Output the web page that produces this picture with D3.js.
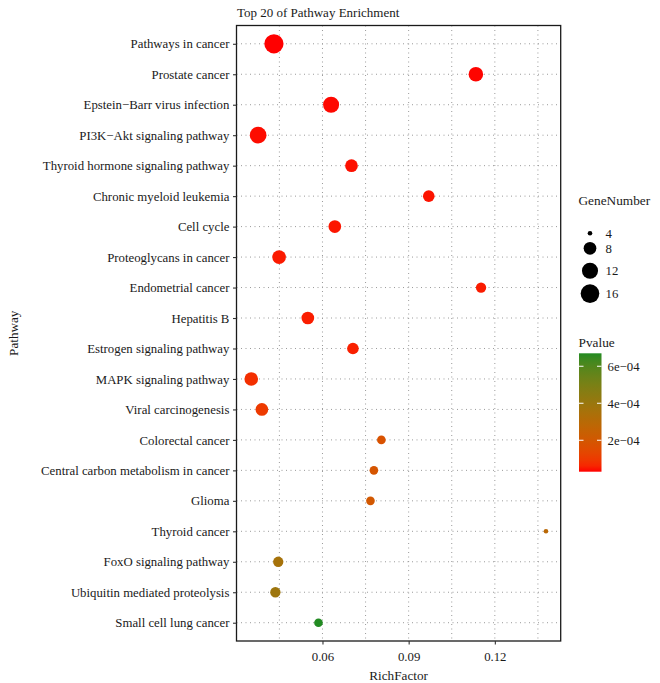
<!DOCTYPE html>
<html>
<head>
<meta charset="utf-8">
<script src="https://cdn.jsdelivr.net/npm/d3@7"></script>
<style>
  html, body { margin: 0; padding: 0; background: #fff; }
  svg { display: block; }
  text { font-family: "Liberation Serif", "Times New Roman", serif; fill: #1a1a1a; }
</style>
</head>
<body>
<svg id="chart" width="660" height="683"></svg>
<script>
// ---------------- data ----------------
const categories = [
  "Pathways in cancer",
  "Prostate cancer",
  "Epstein\u2212Barr virus infection",
  "PI3K\u2212Akt signaling pathway",
  "Thyroid hormone signaling pathway",
  "Chronic myeloid leukemia",
  "Cell cycle",
  "Proteoglycans in cancer",
  "Endometrial cancer",
  "Hepatitis B",
  "Estrogen signaling pathway",
  "MAPK signaling pathway",
  "Viral carcinogenesis",
  "Colorectal cancer",
  "Central carbon metabolism in cancer",
  "Glioma",
  "Thyroid cancer",
  "FoxO signaling pathway",
  "Ubiquitin mediated proteolysis",
  "Small cell lung cancer"
];
const richFactor = [
  0.0431, 0.1134, 0.0630, 0.0376, 0.0701, 0.0970, 0.0643, 0.0449, 0.1152, 0.0549,
  0.0706, 0.0352, 0.0389, 0.0805, 0.0779, 0.0767, 0.1378, 0.0446, 0.0436, 0.0586
];
const geneNumber = [
  17, 10, 12, 13, 8, 7, 8, 9, 6, 8,
  7, 9, 8, 5, 5, 5, 4, 6, 6, 5
];
const pValue = [
  3.0e-5, 3.2e-5, 3.4e-5, 3.6e-5, 3.8e-5, 4.0e-5, 4.3e-5, 4.6e-5, 4.8e-5, 5.0e-5,
  5.3e-5, 7.5e-5, 1.0e-4, 1.75e-4, 1.9e-4, 2.0e-4, 2.9e-4, 3.6e-4, 3.9e-4, 6.7e-4
];
const xTicks = [0.06, 0.09, 0.12];
const xMinorTicks = [0.045, 0.075, 0.105, 0.135];
const sizeBreaks = [4, 8, 12, 16];
const pBreaks = [2e-4, 4e-4, 6e-4];
const pBreakLabels = ["2e\u221204", "4e\u221204", "6e\u221204"];
const titleText = "Top 20 of Pathway Enrichment";

// ---------------- layout ----------------
const panel = { left: 236.5, right: 560.7, top: 25.5, bottom: 641 };
const FS = 12.8;
const svg = d3.select("#chart");

const data = categories.map((c, i) => ({
  name: c, rf: richFactor[i], gene: geneNumber[i], p: pValue[i]
}));

// x scale with ggplot-style 5% expansion
const [rfMin, rfMax] = d3.extent(richFactor);
const pad = (rfMax - rfMin) * 0.05;
const x = d3.scaleLinear().domain([rfMin - pad, rfMax + pad]).range([panel.left, panel.right]);

const y = d3.scalePoint().domain(categories).range([panel.top, panel.bottom]).padding(0.6);

// size scale (area palette, ggplot style)
const [gMin, gMax] = d3.extent(geneNumber);
const rMin = 2.3, rMax = 9.6;
const sizeNorm = d3.scaleSqrt().domain([0, gMax - gMin]).range([rMin, rMax]).clamp(true);
const radius = v => sizeNorm(v - gMin);

// color scale
const [pMin, pMax] = d3.extent(pValue);
const color = d3.scaleLinear().domain([pMin, pMax]).range(["#ff0000", "#228b22"]).interpolate(d3.interpolateLab);

// ---------------- grid ----------------
const grid = svg.append("g");
const gridStyle = sel => sel.attr("stroke", "#9a9a9a").attr("stroke-width", 1)
  .attr("stroke-dasharray", "1,3.5");
grid.selectAll("line.vx").data(xTicks.concat(xMinorTicks)).join("line")
  .attr("x1", d => x(d)).attr("x2", d => x(d))
  .attr("y1", panel.top).attr("y2", panel.bottom).call(gridStyle);
grid.selectAll("line.hy").data(categories).join("line")
  .attr("x1", panel.left).attr("x2", panel.right)
  .attr("y1", d => y(d)).attr("y2", d => y(d)).call(gridStyle);

// ---------------- points ----------------
svg.append("g").selectAll("circle").data(data).join("circle")
  .attr("cx", d => x(d.rf)).attr("cy", d => y(d.name))
  .attr("r", d => radius(d.gene))
  .attr("fill", d => color(d.p));

// ---------------- panel border ----------------
svg.append("rect")
  .attr("x", panel.left).attr("y", panel.top)
  .attr("width", panel.right - panel.left).attr("height", panel.bottom - panel.top)
  .attr("fill", "none").attr("stroke", "#1a1a1a").attr("stroke-width", 1.3);

// ---------------- axes ----------------
const yAxis = svg.append("g").attr("transform", `translate(${panel.left},0)`)
  .call(d3.axisLeft(y).tickSize(3.5).tickPadding(3.6));
yAxis.select(".domain").remove();
yAxis.selectAll("line").attr("stroke", "#333").attr("stroke-width", 1.1);
yAxis.selectAll("text").attr("font-size", FS).attr("font-family", "Liberation Serif").attr("fill", "#1a1a1a");

const xAxis = svg.append("g").attr("transform", `translate(0,${panel.bottom})`)
  .call(d3.axisBottom(x).tickValues(xTicks).tickFormat(d3.format(".2f")).tickSize(3.5).tickPadding(7.5));
xAxis.select(".domain").remove();
xAxis.selectAll("line").attr("stroke", "#333").attr("stroke-width", 1.1);
xAxis.selectAll("text").attr("font-size", FS).attr("font-family", "Liberation Serif").attr("fill", "#1a1a1a");

// axis titles
svg.append("text").attr("x", (panel.left + panel.right) / 2).attr("y", 679.5)
  .attr("text-anchor", "middle").attr("font-size", FS + 0.4).text("RichFactor");
svg.append("text").attr("transform", `translate(17.5,${(panel.top + panel.bottom) / 2}) rotate(-90)`)
  .attr("text-anchor", "middle").attr("font-size", FS + 0.4).text("Pathway");

// title
svg.append("text").attr("x", panel.left + 0.5).attr("y", 17)
  .attr("font-size", FS + 0.2).text(titleText);

// ---------------- size legend ----------------
const lg = svg.append("g");
lg.append("text").attr("x", 578.5).attr("y", 205).attr("font-size", FS + 0.5).text("GeneNumber");
const keyY = [233.3, 248.3, 270.7, 293.6];
lg.selectAll("circle").data(sizeBreaks).join("circle")
  .attr("cx", 590).attr("cy", (d, i) => keyY[i]).attr("r", d => radius(d)).attr("fill", "#000");
lg.selectAll("text.lab").data(sizeBreaks).join("text").attr("class", "lab")
  .attr("x", 605.5).attr("y", (d, i) => keyY[i]).attr("dy", "0.35em")
  .attr("font-size", FS).text(d => d);

// ---------------- colour legend ----------------
const bar = { x: 579, w: 22.5, top: 353.3, bottom: 471.7 };
const barY = d3.scaleLinear().domain([pMin, pMax]).range([bar.bottom, bar.top]);
const defs = svg.append("defs");
const grad = defs.append("linearGradient").attr("id", "pgrad")
  .attr("x1", 0).attr("y1", 1).attr("x2", 0).attr("y2", 0);
grad.selectAll("stop").data(d3.range(0, 1.0001, 0.05)).join("stop")
  .attr("offset", d => d)
  .attr("stop-color", d => color(pMin + d * (pMax - pMin)));
svg.append("text").attr("x", 578.5).attr("y", 347.3).attr("font-size", FS + 0.5).text("Pvalue");
svg.append("rect").attr("x", bar.x).attr("y", bar.top).attr("width", bar.w)
  .attr("height", bar.bottom - bar.top).attr("fill", "url(#pgrad)");
const cb = svg.append("g");
cb.selectAll("line.l").data(pBreaks).join("line")
  .attr("x1", bar.x).attr("x2", bar.x + bar.w / 5)
  .attr("y1", d => barY(d)).attr("y2", d => barY(d))
  .attr("stroke", "#fff").attr("stroke-width", 1);
cb.selectAll("line.r").data(pBreaks).join("line")
  .attr("x1", bar.x + bar.w * 4 / 5).attr("x2", bar.x + bar.w)
  .attr("y1", d => barY(d)).attr("y2", d => barY(d))
  .attr("stroke", "#fff").attr("stroke-width", 1);
cb.selectAll("text").data(pBreaks).join("text")
  .attr("x", 607.5).attr("y", d => barY(d)).attr("dy", "0.35em")
  .attr("font-size", FS).text((d, i) => pBreakLabels[i]);
</script>
</body>
</html>
